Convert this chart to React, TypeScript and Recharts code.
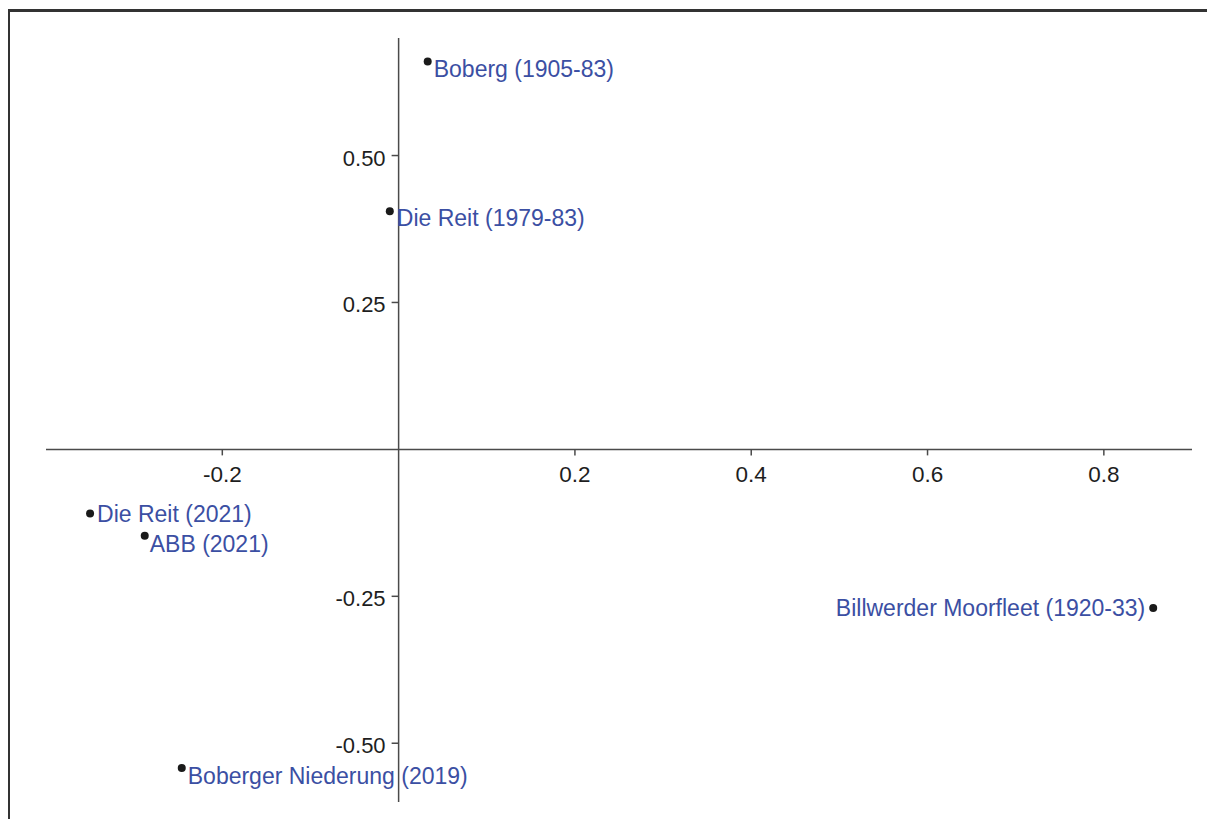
import React from "react";
import {
  ScatterChart,
  Scatter,
  XAxis,
  YAxis,
  ReferenceLine,
  ReferenceDot,
} from "recharts";

const names = [
  "Boberg (1905-83)",
  "Die Reit (1979-83)",
  "Die Reit (2021)",
  "ABB (2021)",
  "Billwerder Moorfleet (1920-33)",
  "Boberger Niederung (2019)",
];
const xValues = [0.033, -0.010, -0.350, -0.288, 0.856, -0.246];
const yValues = [0.660, 0.405, -0.109, -0.147, -0.270, -0.542];

const xTicks = [-0.2, 0.2, 0.4, 0.6, 0.8];
const xTickLabels = ["-0.2", "0.2", "0.4", "0.6", "0.8"];
const yTicks = [0.5, 0.25, -0.25, -0.5];
const yTickLabels = ["0.50", "0.25", "-0.25", "-0.50"];

const xDomain = [-0.4, 0.9];
const yDomain = [-0.6, 0.7];

// label placement (layout only)
const labelPlacement: Record<string, { anchor: "start" | "end"; dx: number; dy: number }> = {
  "Boberg (1905-83)": { anchor: "start", dx: 6, dy: 15 },
  "Die Reit (1979-83)": { anchor: "start", dx: 7, dy: 15 },
  "Die Reit (2021)": { anchor: "start", dx: 7, dy: 9 },
  "ABB (2021)": { anchor: "start", dx: 5, dy: 16 },
  "Billwerder Moorfleet (1920-33)": { anchor: "end", dx: -8, dy: 8 },
  "Boberger Niederung (2019)": { anchor: "start", dx: 6, dy: 16 },
};

const data = names.map((name, i) => ({ name, x: xValues[i], y: yValues[i] }));

const FONT = "'Liberation Sans', Arial, Helvetica, sans-serif";
const AXIS_COLOR = "#4a4a4a";
const LABEL_COLOR = "#3b4fa3";
const TEXT_COLOR = "#1e1e1e";

const PointShape = (props: any) => {
  const { cx, cy, payload } = props;
  const p = labelPlacement[payload.name] || { anchor: "start", dx: 6, dy: 15 };
  return (
    <g>
      <circle cx={cx} cy={cy} r={4} fill="#1a1a1a" />
      <text
        x={cx + p.dx}
        y={cy + p.dy}
        textAnchor={p.anchor}
        fontFamily={FONT}
        fontSize={23}
        fill={LABEL_COLOR}
      >
        {payload.name}
      </text>
    </g>
  );
};

const makeXTick = (label: string) => (props: any) => {
  const { cx, cy } = props;
  return (
    <g>
      <line x1={cx} y1={cy} x2={cx} y2={cy + 6} stroke={AXIS_COLOR} strokeWidth={1.5} />
      <text x={cx} y={cy + 33} textAnchor="middle" fontFamily={FONT} fontSize={22.5} fill={TEXT_COLOR}>
        {label}
      </text>
    </g>
  );
};

const makeYTick = (label: string) => (props: any) => {
  const { cx, cy } = props;
  return (
    <g>
      <line x1={cx - 7} y1={cy} x2={cx} y2={cy} stroke={AXIS_COLOR} strokeWidth={1.5} />
      <text x={cx - 13} y={cy + 10} textAnchor="end" fontFamily={FONT} fontSize={22} fill={TEXT_COLOR}>
        {label}
      </text>
    </g>
  );
};

export default function App() {
  return (
    <div style={{ position: "relative", width: 1199, height: 811 }}>
      <ScatterChart
        width={1199}
        height={811}
        margin={{ top: 30, left: 38, right: 15, bottom: 17 }}
      >
        <XAxis type="number" dataKey="x" domain={xDomain} hide />
        <YAxis type="number" dataKey="y" domain={yDomain} hide />
        <ReferenceLine y={0} stroke={AXIS_COLOR} strokeWidth={1.5} />
        <ReferenceLine x={0} stroke={AXIS_COLOR} strokeWidth={1.5} />
        {xTicks.map((t, i) => (
          <ReferenceDot key={"xt" + i} x={t} y={0} shape={makeXTick(xTickLabels[i])} />
        ))}
        {yTicks.map((t, i) => (
          <ReferenceDot key={"yt" + i} x={0} y={t} shape={makeYTick(yTickLabels[i])} />
        ))}
        <Scatter data={data} isAnimationActive={false} shape={PointShape} />
      </ScatterChart>
      <div
        style={{
          position: "absolute",
          left: -1,
          top: 1,
          width: 1208,
          height: 810,
          borderTop: "3px solid #333333",
          borderLeft: "3px solid #333333",
          boxSizing: "border-box",
          pointerEvents: "none",
        }}
      />
    </div>
  );
}
